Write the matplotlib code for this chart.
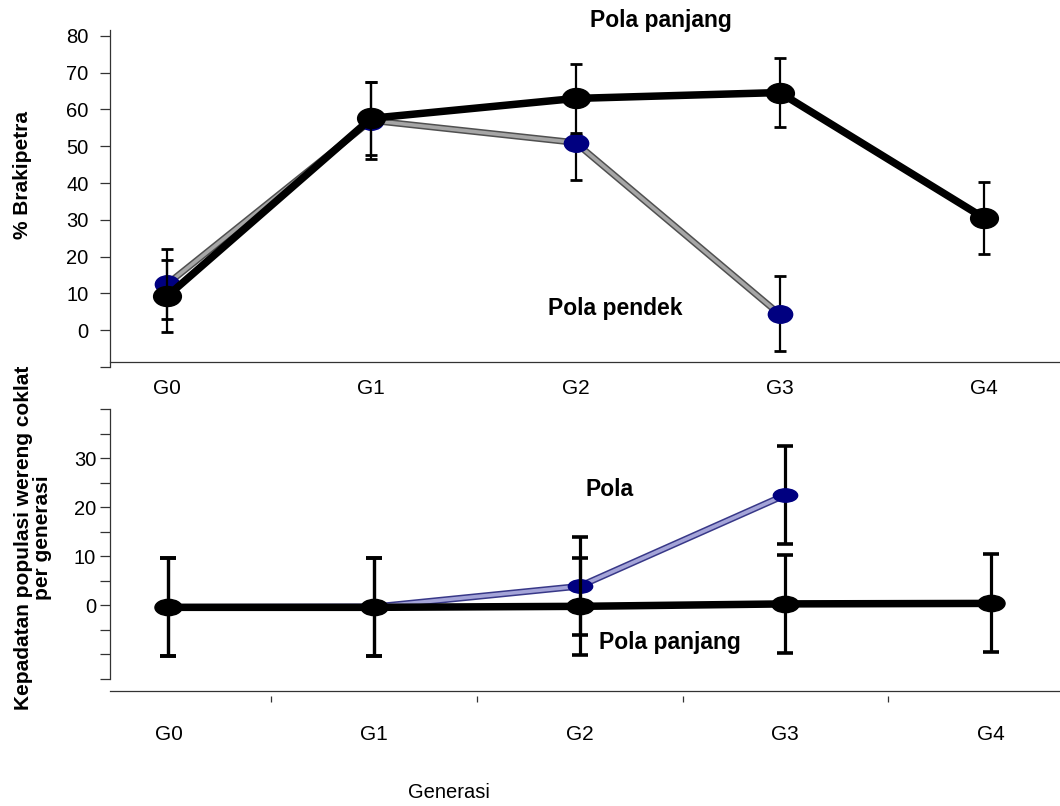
import matplotlib.pyplot as plt
import matplotlib.patheffects as pe
from matplotlib.path import Path
from matplotlib.transforms import Affine2D

plt.rcParams['font.family'] = ['Liberation Sans', 'DejaVu Sans']

generasi = ['G0', 'G1', 'G2', 'G3', 'G4']

# % brakipetra
brak_panjang = [9.2, 57.6, 63.0, 64.6, 30.5]
brak_panjang_err = [9.8, 10.0, 9.4, 9.5, 9.9]
brak_pendek = [12.5, 57.0, 51.0, 4.3]
brak_pendek_err_lo = [9.5, 10.5, 10.2, 10.0]
brak_pendek_err_hi = [9.5, 10.5, 2.0, 10.3]

# kepadatan populasi wereng coklat per generasi
pop_panjang = [-0.4, -0.4, -0.2, 0.3, 0.4]
pop_panjang_err = [10.0, 10.0, 9.9, 10.0, 10.0]
pop_pendek = [-0.4, -0.3, 3.9, 22.5]
pop_pendek_err = [10.0, 10.0, 9.95, 9.9]

x5 = list(range(len(generasi)))
x4 = x5[:4]


def ellipse(ratio):
    return Path.unit_circle().transformed(Affine2D().scale(1.0, ratio))


fig = plt.figure(figsize=(10.6, 8.06), dpi=100)
W, H = 1060, 806

# ---------------- top panel ----------------
ax1 = fig.add_axes([109.5 / W, 1 - 367 / H, 1 - 109.5 / W, 337 / H])
ax1.set_xlim(-0.2815, 4.372)
ax1.set_ylim(-10, 81.6)

grey = [pe.Stroke(linewidth=4.8, foreground='#505050'), pe.Normal()]
ax1.plot(x4, brak_pendek, color='#a6a6a6', lw=2.6, path_effects=grey, zorder=2)
ax1.errorbar(x4, brak_pendek, yerr=[brak_pendek_err_lo, brak_pendek_err_hi],
             fmt='none', ecolor='black', elinewidth=1.6, capsize=4.5, capthick=2, zorder=3)
ax1.plot(x4, brak_pendek, ls='none', marker=ellipse(0.72), ms=17.5,
         color='#000080', zorder=4)
ax1.plot(x5, brak_panjang, color='black', lw=5.4, zorder=5)
ax1.errorbar(x5, brak_panjang, yerr=brak_panjang_err, fmt='none', ecolor='black',
             elinewidth=1.6, capsize=4.5, capthick=2, zorder=6)
ax1.plot(x5, brak_panjang, ls='none', marker=ellipse(0.72), ms=20,
         color='black', zorder=7)

for s in ['top', 'right']:
    ax1.spines[s].set_visible(False)
ax1.spines['left'].set_color('#333333')
ax1.spines['left'].set_linewidth(0.9)
ax1.spines['bottom'].set_position(('data', -8.65))
ax1.spines['bottom'].set_color('#333333')
ax1.spines['bottom'].set_linewidth(0.9)

yt = list(range(-10, 81, 10))
ax1.set_yticks(yt)
ax1.set_yticklabels(['' if v < 0 else str(v) for v in yt], fontsize=14.5)
ax1.tick_params(axis='y', direction='out', length=7, width=0.9, color='#333333', pad=8)
ax1.set_xticks(x5)
ax1.set_xticklabels(generasi, fontsize=15)
ax1.tick_params(axis='x', length=0, pad=12)

# ---------------- bottom panel ----------------
ax2 = fig.add_axes([110 / W, 1 - 679 / H, 1 - 110 / W, 270 / H])
ax2.set_xlim(-0.2845, 4.336)
ax2.set_ylim(-15, 40)

blue = [pe.Stroke(linewidth=4.8, foreground='#383888'), pe.Normal()]
ax2.plot(x4, pop_pendek, color='#a4a4d8', lw=2.6, path_effects=blue, zorder=2)
ax2.errorbar(x4, pop_pendek, yerr=pop_pendek_err, fmt='none', ecolor='black',
             elinewidth=2.3, capsize=6, capthick=2.6, zorder=3)
ax2.plot(x4, pop_pendek, ls='none', marker=ellipse(0.55), ms=17.5,
         color='#000080', zorder=4)
ax2.plot(x5, pop_panjang, color='black', lw=5.4, zorder=5)
ax2.errorbar(x5, pop_panjang, yerr=pop_panjang_err, fmt='none', ecolor='black',
             elinewidth=2.3, capsize=6, capthick=2.6, zorder=6)
ax2.plot(x5, pop_panjang, ls='none', marker=ellipse(0.6), ms=19.5,
         color='black', zorder=7)

for s in ['top', 'right']:
    ax2.spines[s].set_visible(False)
ax2.spines['left'].set_color('#333333')
ax2.spines['left'].set_linewidth(0.9)
ax2.spines['bottom'].set_position(('data', -18.4))
ax2.spines['bottom'].set_visible(False)
ax2.axhline(-17.4, color='#333333', lw=0.9, clip_on=False)

ax2.set_yticks([0, 10, 20, 30])
ax2.set_yticklabels(['0', '10', '20', '30'], fontsize=14.5)
ax2.set_yticks([-15, -10, -5, 5, 15, 25, 35, 40], minor=True)
ax2.tick_params(axis='y', which='both', direction='out', length=7, width=0.9,
                color='#333333', pad=3)
ax2.set_xticks(x5)
ax2.set_xticklabels(generasi, fontsize=15)
ax2.set_xticks([0.5, 1.5, 2.5, 3.5], minor=True)
ax2.tick_params(axis='x', which='major', length=0, pad=21)
ax2.tick_params(axis='x', which='minor', direction='out', length=4, width=0.9,
                color='#333333')

# ---------------- labels ----------------
bold = dict(fontsize=15, fontweight='bold', ha='center', va='center')
ann = dict(bold, fontsize=16.5)
fig.text(23 / W, 1 - 175 / H, '% Brakipetra', rotation=90, **bold)
fig.text(33 / W, 1 - 538 / H, 'Kepadatan populasi wereng coklat\nper generasi',
         rotation=90, linespacing=0.95, **bold)
fig.text(661 / W, 1 - 21 / H, 'Pola panjang', **ann)
fig.text(615 / W, 1 - 309 / H, 'Pola pendek', **ann)
fig.text(610 / W, 1 - 489 / H, 'Pola', **ann)
fig.text(670 / W, 1 - 643 / H, 'Pola panjang', **ann)
fig.text(449 / W, 1 - 792 / H, 'Generasi', fontsize=14.5, ha='center', va='center')

fig.savefig('out.png', dpi=100)
